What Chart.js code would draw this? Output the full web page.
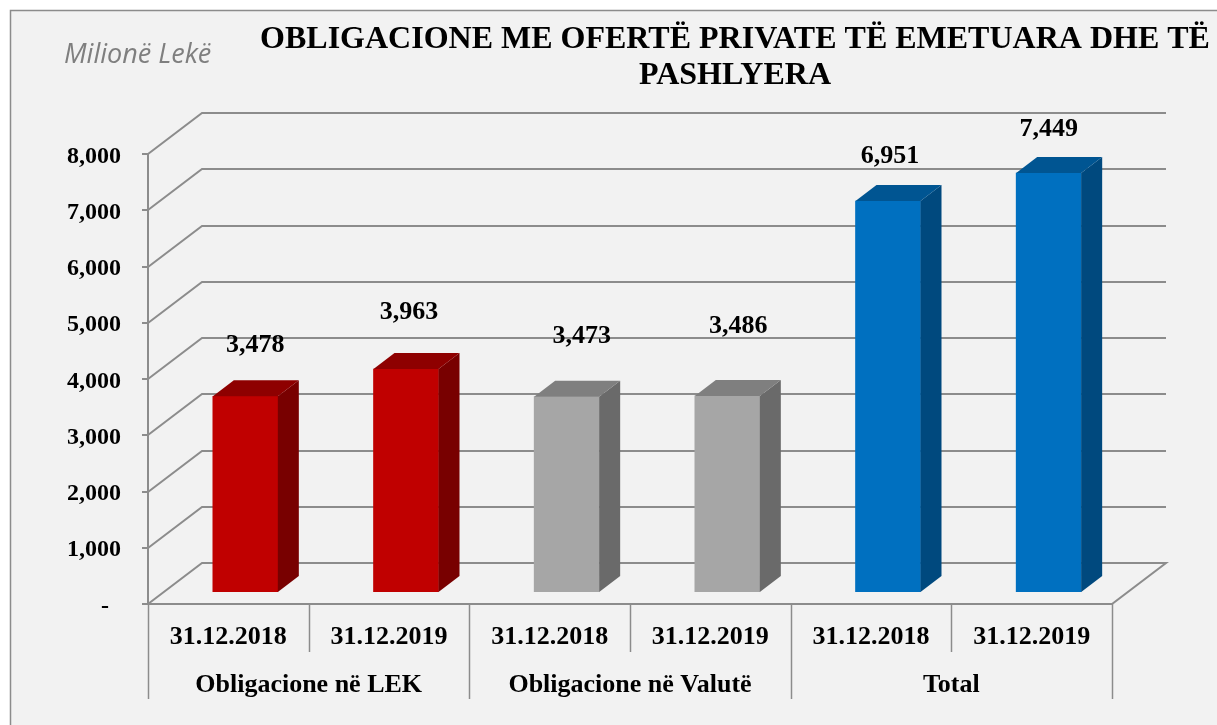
<!DOCTYPE html>
<html>
<head>
<meta charset="utf-8">
<script src="https://cdn.jsdelivr.net/npm/chart.js@4.4.1/dist/chart.umd.min.js"></script>
<style>
html,body{margin:0;padding:0;background:#fff;overflow:hidden}
#wrap{width:1217px;height:725px;position:relative}
</style>
</head>
<body>
<div id="wrap"><canvas id="c" width="1217" height="725"></canvas></div>
<script>
// ---------- data ----------
const groupLabels = ['Obligacione në LEK', 'Obligacione në Valutë', 'Total'];
const categoryLabels = ['31.12.2018', '31.12.2019', '31.12.2018', '31.12.2019', '31.12.2018', '31.12.2019'];
const values = [3478, 3963, 3473, 3486, 6951, 7449];
const yMin = 0, yMax = 8000, yStep = 1000;
const titleLines = ['OBLIGACIONE ME OFERTË PRIVATE TË EMETUARA DHE TË', 'PASHLYERA'];
const unitLabel = 'Milionë Lekë';

// ---------- styles ----------
const frontColors = ['#C00000', '#C00000', '#A6A6A6', '#A6A6A6', '#0070C0', '#0070C0'];
const sideColors  = ['#780000', '#780000', '#6A6A6A', '#6A6A6A', '#00497E', '#00497E'];
const topColors   = ['#8E0000', '#8E0000', '#7F7F7F', '#7F7F7F', '#005592', '#005592'];
const labelShiftX = [10, 3, 15, 11, 2, 0];
const labelLift   = [44, 50, 54, 63, 38, 37];
const BACK = {dx: 54, dy: -41};       // back wall offset
const BARPLANE = {dx: 17, dy: -12};   // bar front face offset
const BARDEPTH = {dx: 21, dy: -16};   // bar depth
const GRID = '#8C8C8C';
const SERIF = '"Liberation Serif", "Times New Roman", serif';
const W = 1217, H = 725;

const threeD = {
  id: 'threeD',
  beforeDraw(chart) {
    const {ctx, chartArea: a, scales: {x, y}} = chart;
    ctx.save();
    ctx.fillStyle = '#ffffff';
    ctx.fillRect(0, 0, W, H);
    ctx.fillStyle = '#F2F2F2';
    ctx.fillRect(10, 10, W, H);
    ctx.strokeStyle = '#8C8C8C';
    ctx.lineWidth = 1.5;
    ctx.beginPath();
    ctx.moveTo(10.5, H); ctx.lineTo(10.5, 10.5); ctx.lineTo(W, 10.5);
    ctx.stroke();

    // title
    ctx.fillStyle = '#000';
    ctx.textAlign = 'center';
    ctx.textBaseline = 'alphabetic';
    ctx.font = 'bold 32px ' + SERIF;
    ctx.fillText(titleLines[0], 735, 47.5);
    ctx.fillText(titleLines[1], 735, 83.5);

    // unit
    ctx.fillStyle = '#7F7F7F';
    ctx.textAlign = 'left';
    ctx.font = 'italic 27px "Open Sans", "Noto Sans", sans-serif';
    ctx.fillText(unitLabel, 64, 63);

    // walls / gridlines
    ctx.strokeStyle = GRID;
    ctx.lineWidth = 2;
    y.ticks.forEach(t => {
      const py = Math.round(y.getPixelForValue(t.value));
      ctx.beginPath();
      if (t.value === yMin) {
        ctx.moveTo(a.left, py);
        ctx.lineTo(a.left + BACK.dx, py + BACK.dy);
        ctx.lineTo(a.right + BACK.dx, py + BACK.dy);
        ctx.lineTo(a.right, py);
        ctx.closePath();
      } else {
        ctx.moveTo(a.left, py);
        ctx.lineTo(a.left + BACK.dx, py + BACK.dy);
        ctx.lineTo(a.right + BACK.dx, py + BACK.dy);
      }
      ctx.stroke();
      ctx.beginPath();
      ctx.moveTo(a.left - 6, py); ctx.lineTo(a.left, py);
      ctx.stroke();
    });
    // y axis line
    ctx.beginPath();
    ctx.moveTo(a.left, y.getPixelForValue(yMax));
    ctx.lineTo(a.left, y.getPixelForValue(yMin));
    ctx.stroke();

    // y tick labels
    ctx.fillStyle = '#000';
    ctx.textAlign = 'right';
    ctx.font = 'bold 24px ' + SERIF;
    y.ticks.forEach(t => {
      const py = y.getPixelForValue(t.value);
      const txt = t.value === 0 ? '-  ' : t.value.toLocaleString('en-US');
      ctx.fillText(txt, 121, py + 8.5);
    });

    // x axis: separators and labels
    const n = categoryLabels.length;
    const step = (a.right - a.left) / n;
    const bottom = y.getPixelForValue(yMin);
    ctx.lineWidth = 1.5;
    for (let i = 0; i <= n; i++) {
      const bx = Math.round(a.left + i * step) + 0.5;
      const isGroup = i % 2 === 0;
      ctx.beginPath();
      ctx.moveTo(bx, bottom);
      ctx.lineTo(bx, isGroup ? 699 : 652);
      ctx.stroke();
    }
    ctx.textAlign = 'center';
    ctx.font = 'bold 26px ' + SERIF;
    categoryLabels.forEach((lab, i) => {
      ctx.fillText(lab, x.getPixelForValue(i), 644);
    });
    groupLabels.forEach((lab, g) => {
      const cx = (x.getPixelForValue(2 * g) + x.getPixelForValue(2 * g + 1)) / 2;
      ctx.fillText(lab, cx, 692);
    });
    ctx.restore();
  },
  beforeDatasetsDraw(chart) {
    chart.ctx.save();
    chart.ctx.translate(BARPLANE.dx, BARPLANE.dy);
  },
  afterDatasetsDraw(chart) {
    const ctx = chart.ctx;
    const meta = chart.getDatasetMeta(0);
    meta.data.forEach((bar, i) => {
      const {x, y, base, width} = bar.getProps(['x', 'y', 'base', 'width'], true);
      const l = x - width / 2, r = x + width / 2;
      ctx.fillStyle = sideColors[i];
      ctx.beginPath();
      ctx.moveTo(r, y);
      ctx.lineTo(r + BARDEPTH.dx, y + BARDEPTH.dy);
      ctx.lineTo(r + BARDEPTH.dx, base + BARDEPTH.dy);
      ctx.lineTo(r, base);
      ctx.closePath();
      ctx.fill();
      ctx.fillStyle = topColors[i];
      ctx.beginPath();
      ctx.moveTo(l, y);
      ctx.lineTo(l + BARDEPTH.dx, y + BARDEPTH.dy);
      ctx.lineTo(r + BARDEPTH.dx, y + BARDEPTH.dy);
      ctx.lineTo(r, y);
      ctx.closePath();
      ctx.fill();
      ctx.fillStyle = '#000';
      ctx.font = 'bold 26px ' + SERIF;
      ctx.textAlign = 'center';
      ctx.textBaseline = 'alphabetic';
      ctx.fillText(values[i].toLocaleString('en-US'), x + labelShiftX[i], y - labelLift[i]);
    });
    ctx.restore();
  }
};

new Chart(document.getElementById('c'), {
  type: 'bar',
  data: {
    labels: categoryLabels,
    datasets: [{
      data: values,
      backgroundColor: frontColors,
      borderWidth: 0,
      barThickness: 65
    }]
  },
  options: {
    responsive: false,
    animation: false,
    devicePixelRatio: 1,
    layout: {padding: {left: 148, right: 105, top: 154, bottom: 121}},
    plugins: {legend: {display: false}, title: {display: false}, tooltip: {enabled: false}},
    scales: {
      x: {display: false, offset: true},
      y: {display: false, min: yMin, max: yMax, ticks: {stepSize: yStep}}
    }
  },
  plugins: [threeD]
});
</script>
</body>
</html>
